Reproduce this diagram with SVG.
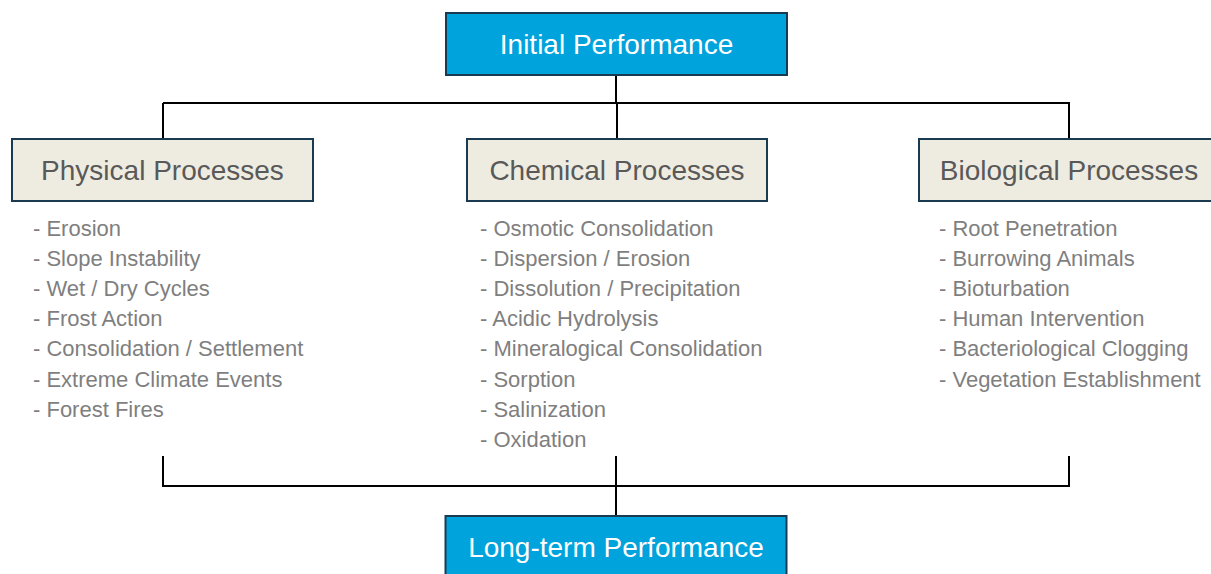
<svg xmlns="http://www.w3.org/2000/svg" width="1211" height="574" viewBox="0 0 1211 574">
<style>
.perf{fill:#00a3db;stroke:#1a3a52;stroke-width:2}
.proc{fill:#eeece1;stroke:#1a3a52;stroke-width:2}
.ptxt{font-family:"Liberation Sans",Arial,sans-serif;font-size:28px;fill:#ffffff;text-anchor:middle}
.htxt{font-family:"Liberation Sans",Arial,sans-serif;font-size:28px;fill:#595959;text-anchor:middle}
.item{font-family:"Liberation Sans",Arial,sans-serif;font-size:22px;fill:#7f7f7f}
.conn{fill:none;stroke:#000000;stroke-width:2}
</style>
<rect width="1211" height="574" fill="#ffffff"/>
<g id="connectors">
<path class="conn" d="M616,75 V103 M163,103 H1070 M163,103 V139 M617,103 V139 M1069,103 V139"/>
<path class="conn" d="M163,456 V486 H1069 V456 M616,456 V516"/>
</g>
<g id="initial">
<rect class="perf" x="446" y="13" width="341" height="62"/>
<text class="ptxt" x="616.5" y="54">Initial Performance</text>
</g>
<g id="physical">
<rect class="proc" x="12" y="139" width="301" height="62"/>
<text class="htxt" x="162.5" y="180">Physical Processes</text>
<text class="item" x="33" y="236">- Erosion</text>
<text class="item" x="33" y="266.1">- Slope Instability</text>
<text class="item" x="33" y="296.2">- Wet / Dry Cycles</text>
<text class="item" x="33" y="326.3">- Frost Action</text>
<text class="item" x="33" y="356.4">- Consolidation / Settlement</text>
<text class="item" x="33" y="386.5">- Extreme Climate Events</text>
<text class="item" x="33" y="416.6">- Forest Fires</text>
</g>
<g id="chemical">
<rect class="proc" x="467" y="139" width="300" height="62"/>
<text class="htxt" x="617" y="180">Chemical Processes</text>
<text class="item" x="480" y="236">- Osmotic Consolidation</text>
<text class="item" x="480" y="266.1">- Dispersion / Erosion</text>
<text class="item" x="480" y="296.2">- Dissolution / Precipitation</text>
<text class="item" x="480" y="326.3">- Acidic Hydrolysis</text>
<text class="item" x="480" y="356.4">- Mineralogical Consolidation</text>
<text class="item" x="480" y="386.5">- Sorption</text>
<text class="item" x="480" y="416.6">- Salinization</text>
<text class="item" x="480" y="446.7">- Oxidation</text>
</g>
<g id="biological">
<rect class="proc" x="919" y="139" width="300" height="62"/>
<text class="htxt" x="1069" y="180">Biological Processes</text>
<text class="item" x="939" y="236">- Root Penetration</text>
<text class="item" x="939" y="266.1">- Burrowing Animals</text>
<text class="item" x="939" y="296.2">- Bioturbation</text>
<text class="item" x="939" y="326.3">- Human Intervention</text>
<text class="item" x="939" y="356.4">- Bacteriological Clogging</text>
<text class="item" x="939" y="386.5">- Vegetation Establishment</text>
</g>
<g id="longterm">
<rect class="perf" x="445.5" y="516" width="341" height="62"/>
<text class="ptxt" x="616" y="557">Long-term Performance</text>
</g>
</svg>
